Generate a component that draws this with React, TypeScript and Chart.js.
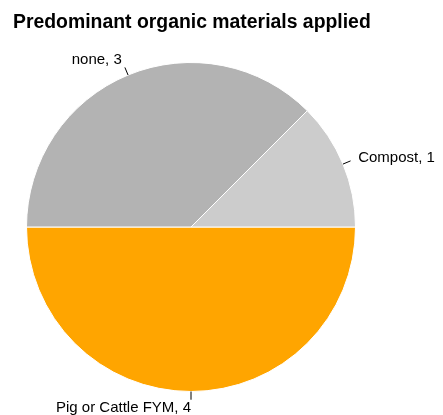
import React, { useEffect, useRef } from "react";
import { Chart, registerables } from "chart.js";

Chart.register(...registerables);

// Slices listed in the order they are drawn, clockwise from 3 o'clock.
const categories = ["Pig or Cattle FYM", "none", "Compost"];
const counts = [4, 3, 1];
const sliceColors = ["#FFA500", "#B3B3B3", "#CCCCCC"];

const titleText = "Predominant organic materials applied";
const FONT = "'Liberation Sans', Arial, Helvetica, sans-serif";

// Draws the title plus "label, value" captions with short leader lines
// at the middle angle of each slice.
const pieLabels = {
  id: "pieLabels",
  afterDatasetsDraw(chart: any) {
    const ctx = chart.ctx;
    const meta = chart.getDatasetMeta(0);
    const values = chart.data.datasets[0].data as number[];
    const labels = chart.data.labels as string[];

    ctx.save();
    ctx.fillStyle = "#000";
    ctx.font = `bold 19.4px ${FONT}`;
    ctx.textAlign = "left";
    ctx.textBaseline = "alphabetic";
    ctx.fillText(titleText, 13, 28);

    ctx.font = `15px ${FONT}`;
    ctx.strokeStyle = "#000";
    ctx.lineWidth = 1;
    meta.data.forEach((arc: any, i: number) => {
      const { x, y, startAngle, endAngle, outerRadius } = arc.getProps(
        ["x", "y", "startAngle", "endAngle", "outerRadius"],
        true
      );
      const mid = (startAngle + endAngle) / 2;
      const c = Math.cos(mid);
      const s = Math.sin(mid);
      ctx.beginPath();
      ctx.moveTo(x + c * outerRadius, y + s * outerRadius);
      ctx.lineTo(x + c * outerRadius * 1.05, y + s * outerRadius * 1.05);
      ctx.stroke();
      // captions on the right start at the anchor; the rest end at it
      ctx.textAlign = c > 1e-6 ? "left" : "right";
      ctx.textBaseline = "middle";
      ctx.fillText(
        `${labels[i]}, ${values[i]}`,
        x + c * outerRadius * 1.1,
        y + s * outerRadius * 1.1
      );
    });
    ctx.restore();
  },
};

export default function App() {
  const canvasRef = useRef<HTMLCanvasElement | null>(null);

  useEffect(() => {
    if (!canvasRef.current) return;
    const chart = new Chart(canvasRef.current, {
      type: "pie",
      data: {
        labels: categories,
        datasets: [
          {
            data: counts,
            backgroundColor: sliceColors,
            borderColor: "#FFFFFF",
            borderWidth: 1,
          },
        ],
      },
      options: {
        responsive: false,
        animation: false,
        devicePixelRatio: 1,
        rotation: 90,
        layout: { padding: { top: 62, left: 26, right: 87, bottom: 23 } },
        plugins: {
          legend: { display: false },
          title: { display: false },
          tooltip: { enabled: false },
        },
      },
      plugins: [pieLabels],
    });
    return () => chart.destroy();
  }, []);

  return (
    <div
      style={{
        position: "fixed",
        left: 0,
        top: 0,
        width: 443,
        height: 415,
        background: "#fff",
      }}
    >
      <canvas ref={canvasRef} width={443} height={415} />
    </div>
  );
}
